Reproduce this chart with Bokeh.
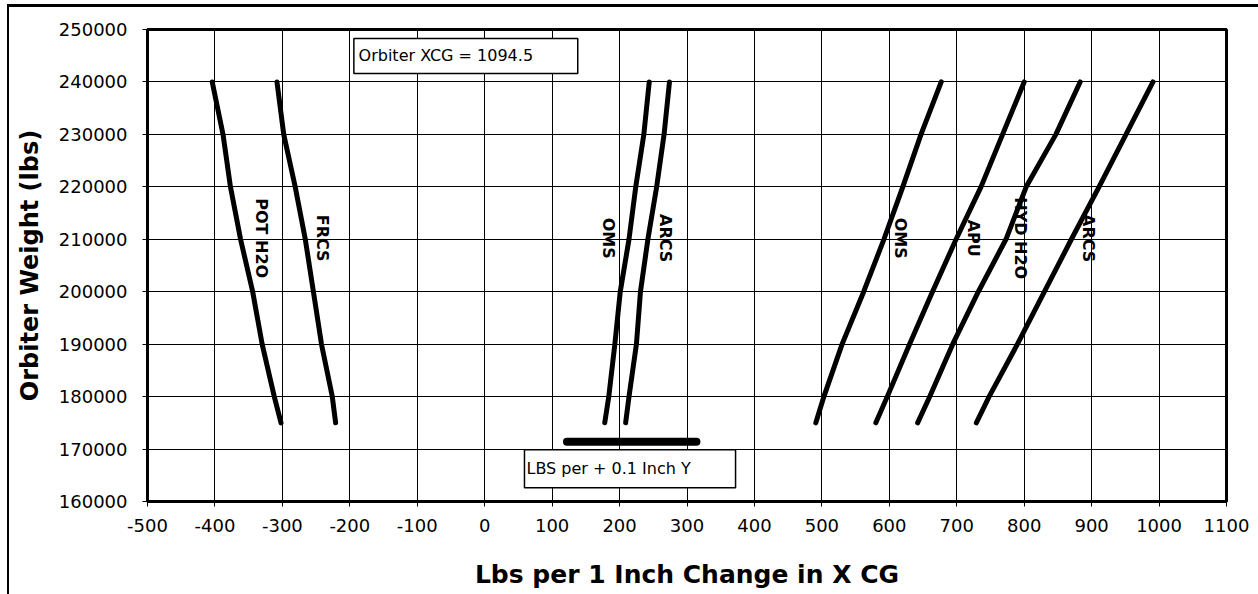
import math
from bokeh.plotting import figure
from bokeh.models import Range1d, FixedTicker, BasicTickFormatter
from bokeh.core.properties import value
from bokeh.embed import file_html
from bokeh.resources import INLINE

# ---- data ----
weights = [240000, 230000, 220000, 210000, 200000, 190000, 180000, 175000]
pot_h2o = [-404, -388, -377, -362, -344, -330, -312, -302]
frcs = [-308, -298, -281, -266, -254, -242, -226, -221]
oms_y = [244, 236, 224, 214, 201, 193, 184, 178]
arcs_y = [274, 266, 255, 242, 231, 225, 214, 209]
oms = [677, 647, 620, 592, 562, 530, 503, 491]
apu = [800, 768, 736, 699, 664, 630, 597, 580]
hyd_h2o = [883, 847, 803, 773, 732, 694, 660, 642]
arcs = [991, 951, 911, 870, 830, 790, 748, 729]

series_names = ["POT H2O", "FRCS", "OMS", "ARCS", "OMS", "APU", "HYD H2O", "ARCS"]
series_values = [pot_h2o, frcs, oms_y, arcs_y, oms, apu, hyd_h2o, arcs]
label_x = [-331, -240, 184, 268, 617, 725, 795, 896]
label_weight = 210200

lbs_per_01_inch_y = [122, 314]
lbs_y_weight = 171400

x_ticks = list(range(-500, 1101, 100))
x_tick_labels = [str(t) for t in x_ticks]
y_ticks = list(range(160000, 250001, 10000))
y_tick_labels = [str(t) for t in y_ticks]

FONT = "DejaVu Sans"

p = figure(width=1258, height=594,
           x_range=Range1d(-500, 1100), y_range=Range1d(160000, 250000),
           output_backend="svg", toolbar_location=None,
           min_border_left=147, min_border_right=32,
           min_border_top=29, min_border_bottom=93,
           background_fill_color="white", border_fill_color=None)
# scanned page frame (top and left edges)
p.styles = {
    "background": ("linear-gradient(#000,#000) 7px 4px / 2px 100% no-repeat, "
                   "linear-gradient(#000,#000) 7px 4px / 100% 3px no-repeat, white"),
}

p.outline_line_color = "black"
p.outline_line_width = 3

p.xaxis.ticker = FixedTicker(ticks=x_ticks)
p.yaxis.ticker = FixedTicker(ticks=y_ticks)
p.xaxis.formatter = BasicTickFormatter(use_scientific=False)
p.yaxis.formatter = BasicTickFormatter(use_scientific=False)
p.xaxis.major_label_overrides = dict(zip(x_ticks, x_tick_labels))
p.yaxis.major_label_overrides = dict(zip(y_ticks, y_tick_labels))
p.xgrid.ticker = FixedTicker(ticks=x_ticks)
p.ygrid.ticker = FixedTicker(ticks=y_ticks)
for g in (p.xgrid, p.ygrid):
    g.grid_line_color = "black"
    g.grid_line_width = 1
    g.grid_line_alpha = 1

for ax in (p.xaxis, p.yaxis):
    ax.axis_line_color = None
    ax.major_tick_line_color = "black"
    ax.major_tick_line_width = 1
    ax.major_tick_out = 5
    ax.major_tick_in = 0
    ax.minor_tick_line_color = None
    ax.major_label_text_font = FONT
    ax.major_label_text_font_size = "18px"
    ax.major_label_text_color = "black"
    ax.axis_label_text_font = FONT
    ax.axis_label_text_font_style = "bold"
    ax.axis_label_text_color = "black"

p.xaxis.axis_label = "Lbs per 1 Inch Change in X CG"
p.xaxis.axis_label_text_font_size = "25px"
p.xaxis.major_label_standoff = 12
p.xaxis.axis_label_standoff = 25
p.yaxis.axis_label = "Orbiter Weight (lbs)"
p.yaxis.axis_label_text_font_size = "24px"
p.yaxis.major_label_standoff = 15
p.yaxis.axis_label_standoff = 12

for vals in series_values:
    p.line(x=vals, y=weights, line_color="black", line_width=5,
           line_cap="round", line_join="round")

p.line(x=lbs_per_01_inch_y, y=[lbs_y_weight] * len(lbs_per_01_inch_y),
       line_color="black", line_width=8, line_cap="round")

p.text(x=label_x, y=[label_weight] * len(label_x), text=series_names,
       angle=-math.pi / 2, text_align="center", text_baseline="middle",
       text_font=value(FONT), text_font_size="16px", text_font_style="bold",
       text_color="black")

# annotation boxes
p.quad(left=[-194], right=[138], top=[248300], bottom=[241600],
       fill_color="white", line_color="black", line_width=1.5)
p.text(x=[-187], y=[244950], text=["Orbiter XCG = 1094.5"],
       text_align="left", text_baseline="middle",
       text_font=value(FONT), text_font_size="16px", text_color="black")
p.quad(left=[59], right=[372], top=[169860], bottom=[162610],
       fill_color="white", line_color="black", line_width=1.5)
p.text(x=[62], y=[166240], text=["LBS per + 0.1 Inch Y"],
       text_align="left", text_baseline="middle",
       text_font=value(FONT), text_font_size="16px", text_color="black")

open("out.html", "w").write(file_html(p, INLINE))
